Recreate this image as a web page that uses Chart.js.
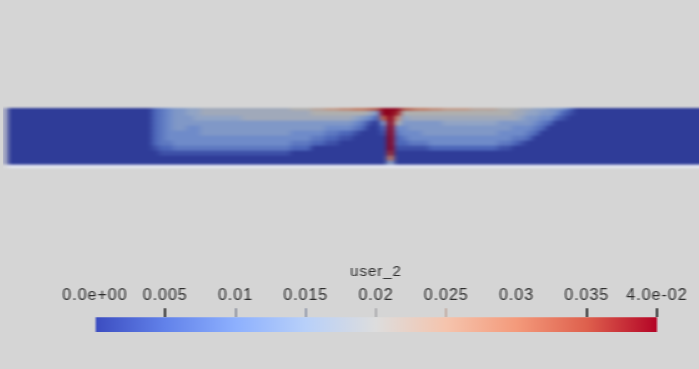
<!DOCTYPE html>
<html>
<head>
<meta charset="utf-8">
<script src="https://cdn.jsdelivr.net/npm/chart.js@4.4.1/dist/chart.umd.min.js"></script>
<style>
  html, body { margin: 0; padding: 0; background: #d5d5d5; }
  body { width: 699px; height: 369px; position: relative; overflow: hidden; }
  #fieldBox { position: absolute; left: 3px; top: 104px; width: 696px; height: 68px; }
  #barBox { position: absolute; left: 0; top: 255px; width: 699px; height: 85px; }
</style>
</head>
<body>
<div id="fieldBox"><canvas id="field" width="696" height="68"></canvas></div>
<div id="barBox"><canvas id="legend" width="699" height="85"></canvas></div>
<script>
// colour bar range and ticks
const rangeMin = 0;
const rangeMax = 0.04;
const tickValues = [0, 0.005, 0.01, 0.015, 0.02, 0.025, 0.03, 0.035, 0.04];
const tickLabels = ['0.0e+00', '0.005', '0.01', '0.015', '0.02', '0.025', '0.03', '0.035', '4.0e-02'];
const fieldName = 'user_2';

// cool to warm colour map
const cmapStops = [0, 0.125, 0.25, 0.375, 0.5, 0.625, 0.75, 0.875, 1];
const cmapColors = [
    [59, 76, 192], [98, 130, 234], [141, 176, 254], [184, 208, 249], [221, 221, 221],
    [245, 196, 173], [244, 154, 123], [222, 96, 77], [180, 4, 38]
];

// strip rows, top to bottom, and the thin bottom edge
const rowHeights = [2, 5, 5, 5, 5, 5, 5, 5, 5, 5, 5, 4];
const edgeHeight = 4;

// user_2 per column, one char per row (top first), in steps of 0.0025 ('g' = 0.04)
const levelChars = '0123456789abcdefg';
const levelStep = 0.0025;
const columns = [
    '000000000000', '000000000000', '000000000000', '000000000000', '000000000000',
    '000000000000', '000000000000', '000000000000', '000000000000', '000000000000',
    '000000000000', '000000000000', '000000000000', '000000000000', '000000000000',
    '000000000000', '000000000000', '000000000000', '000000000000', '000000000000',
    '000000000000',
    '222222221000', '333333332100', '444444432100', '555554443100', '555554443100',
    '665544443100', '666544443100',
    '776555443100', '776555443100', '776555443100', '776555443100', '776555443100', '776555443100',
    '777555443100', '777555443100', '777555443100', '777555443100', '777555443100', '777555443100', '777555443100',
    '877554432000', '877554432000', '877554432000',
    '987554320000', '987554320000',
    'a87543210000', 'a87543210000',
    'b87542100000', 'b87542100000',
    'c86431000000', 'c85320000000', 'd74100000000', 'e52000000000',
    'ggd521000000', 'gggggggggfc6', 'gfb843221000',
    'e86544321000', 'd87554431000', 'c87554431000', 'c87555431000',
    'b87555442000', 'b87555442000',
    'a87655442000', 'a87655442000', 'a87655442000', 'a87655442000',
    '987655442000', '987655442000', '987655442000', '987655442000',
    '887554431000', '887554431000', '877544320000',
    '776544310000', '765543200000', '665432000000', '654320000000',
    '554200000000', '542000000000', '421000000000', '210000000000',
    '000000000000', '000000000000', '000000000000', '000000000000', '000000000000',
    '000000000000', '000000000000', '000000000000', '000000000000', '000000000000',
    '000000000000', '000000000000', '000000000000', '000000000000', '000000000000',
    '000000000000', '000000000000', '000000000000'
];

const pageColor = '#d5d5d5';

function colorAt(v, shade) {
    let t = (v - rangeMin) / (rangeMax - rangeMin);
    t = Math.max(0, Math.min(1, t));
    let i = 0;
    while (i < cmapStops.length - 2 && t > cmapStops[i + 1]) i++;
    const f = (t - cmapStops[i]) / (cmapStops[i + 1] - cmapStops[i]);
    const a = cmapColors[i], b = cmapColors[i + 1];
    const rgb = a.map((c, k) => Math.round((c + (b[k] - c) * f) * shade));
    return 'rgb(' + rgb.join(',') + ')';
}

const letterSpacing = {
    id: 'letterSpacing',
    beforeDraw(chart) {
        chart.ctx.letterSpacing = '1px';
    }
};

// box blur on the pixels, in one direction
function blurPass(d, w, h, r, horizontal) {
    const src = new Uint8ClampedArray(d);
    for (let y = 0; y < h; y++) {
        for (let x = 0; x < w; x++) {
            let sr = 0, sg = 0, sb = 0, n = 0;
            for (let k = -r; k <= r; k++) {
                const xx = horizontal ? x + k : x;
                const yy = horizontal ? y : y + k;
                if (xx < 0 || yy < 0 || xx >= w || yy >= h) continue;
                const p = (yy * w + xx) * 4;
                sr += src[p]; sg += src[p + 1]; sb += src[p + 2]; n++;
            }
            const q = (y * w + x) * 4;
            d[q] = sr / n; d[q + 1] = sg / n; d[q + 2] = sb / n; d[q + 3] = 255;
        }
    }
}

// paint the page colour behind, then soften the finished picture (the reference is a soft render)
const soften = {
    id: 'soften',
    beforeDraw(chart) {
        const ctx = chart.ctx;
        ctx.save();
        ctx.fillStyle = pageColor;
        ctx.fillRect(0, 0, chart.width, chart.height);
        ctx.restore();
    },
    afterDraw(chart, args, opts) {
        const ctx = chart.ctx;
        const w = chart.canvas.width, h = chart.canvas.height;
        const img = ctx.getImageData(0, 0, w, h);
        for (let i = 0; i < opts.passes; i++) {
            blurPass(img.data, w, h, opts.rx, true);
            blurPass(img.data, w, h, opts.ry, false);
        }
        ctx.putImageData(img, 0, 0);
    }
};

// field strip
const fieldDatasets = rowHeights.map((h, r) => ({
    data: columns.map(() => h),
    backgroundColor: columns.map(col => colorAt(levelChars.indexOf(col[r]) * levelStep, 0.79)),
    borderWidth: 0,
    inflateAmount: 0.6,
    barPercentage: 1,
    categoryPercentage: 1
}));
fieldDatasets.push({
    data: columns.map(() => edgeHeight),
    backgroundColor: '#e6e8f3',
    borderWidth: 0,
    inflateAmount: 0.6,
    barPercentage: 1,
    categoryPercentage: 1
});

new Chart(document.getElementById('field').getContext('2d'), {
    type: 'bar',
    data: {
        labels: columns.map((_, i) => i),
        datasets: fieldDatasets
    },
    options: {
        responsive: false,
        animation: false,
        devicePixelRatio: 1,
        layout: { padding: { left: 4, right: 0, top: 4, bottom: 4 } },
        scales: {
            x: { display: false, stacked: true },
            y: {
                display: false,
                stacked: true,
                reverse: true,
                min: 0,
                max: rowHeights.reduce((s, h) => s + h, 0) + edgeHeight
            }
        },
        plugins: {
            legend: { display: false },
            tooltip: { enabled: false },
            soften: { rx: 3, ry: 1, passes: 2 }
        }
    },
    plugins: [soften]
});

// colour bar
const tickColors = ['rgba(0,0,0,0)', '#1e1e1e', '#8a8f9c', '#8f96a8', '#a9a9ac', '#c0aaa0', 'rgba(0,0,0,0)', '#1e1e1e', '#1e1e1e'];

new Chart(document.getElementById('legend').getContext('2d'), {
    type: 'bar',
    data: {
        labels: [fieldName],
        datasets: [{
            data: [[rangeMin, rangeMax]],
            backgroundColor: function (context) {
                const area = context.chart.chartArea;
                if (!area) {
                    return cmapColors[0];
                }
                const g = context.chart.ctx.createLinearGradient(area.left, 0, area.right, 0);
                cmapStops.forEach((s, i) => g.addColorStop(s, 'rgb(' + cmapColors[i].join(',') + ')'));
                return g;
            },
            borderWidth: 0,
            borderSkipped: false,
            barPercentage: 1,
            categoryPercentage: 1
        }]
    },
    options: {
        indexAxis: 'y',
        responsive: false,
        animation: false,
        devicePixelRatio: 1,
        layout: { padding: { left: 95, right: 42, top: 0, bottom: 8 } },
        scales: {
            x: {
                type: 'linear',
                position: 'top',
                min: rangeMin,
                max: rangeMax,
                afterBuildTicks: function (axis) {
                    axis.ticks = tickValues.map(v => ({ value: v }));
                },
                ticks: {
                    autoSkip: false,
                    maxRotation: 0,
                    padding: 3,
                    color: '#2e2e2e',
                    font: { family: "'Liberation Sans', Arial, sans-serif", size: 16 },
                    callback: function (value, index) {
                        return tickLabels[index];
                    }
                },
                grid: {
                    drawOnChartArea: false,
                    drawTicks: true,
                    tickLength: 9,
                    lineWidth: 2,
                    color: function (context) {
                        return tickColors[context.index];
                    }
                },
                border: { display: false }
            },
            y: { display: false }
        },
        plugins: {
            legend: { display: false },
            tooltip: { enabled: false },
            soften: { rx: 1, ry: 0, passes: 1 },
            title: {
                display: true,
                text: fieldName,
                fullSize: false,
                color: '#2e2e2e',
                font: { family: "'Liberation Sans', Arial, sans-serif", size: 15, weight: 'normal' },
                padding: { top: 8, bottom: 2 }
            }
        }
    },
    plugins: [letterSpacing, soften]
});
</script>
</body>
</html>
